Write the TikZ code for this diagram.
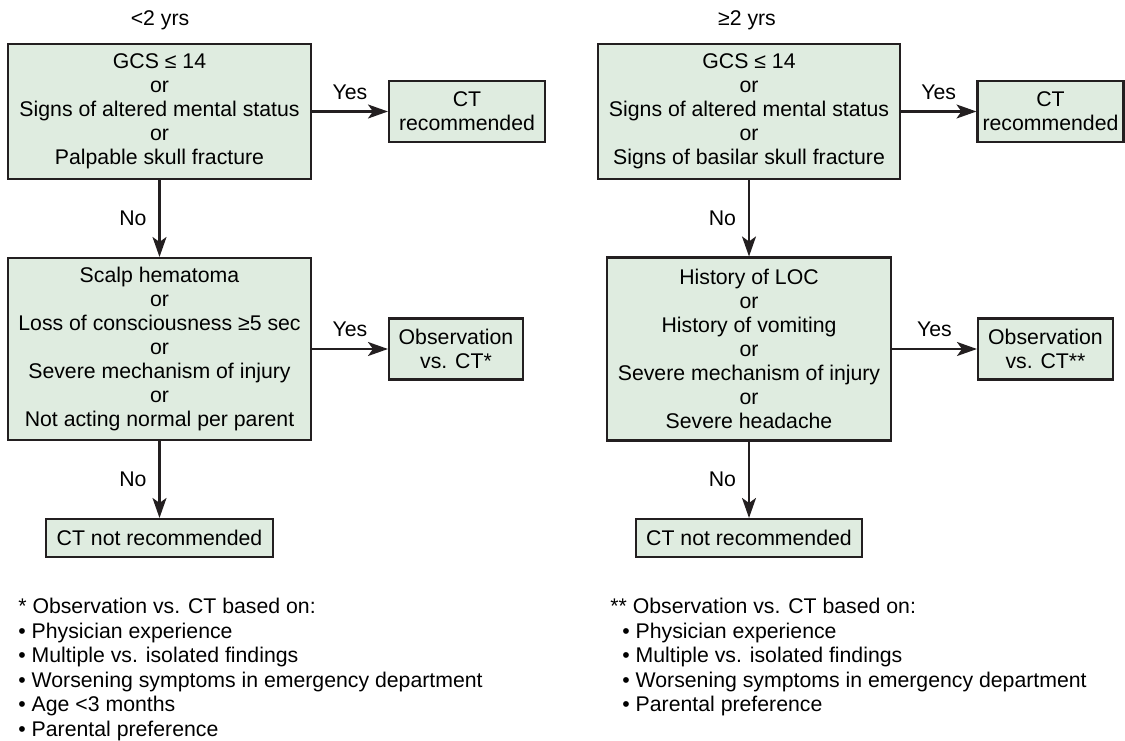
\documentclass[tikz,border=0pt]{standalone}
\usepackage{fontspec}
\setmainfont{Liberation Sans}
\usepackage{tikz}
\usetikzlibrary{arrows.meta}

\definecolor{boxgreen}{RGB}{223,236,224}
\definecolor{edgegray}{RGB}{35,31,32}
\tikzset{
  qbox/.style={draw=edgegray, fill=boxgreen, line width=1.2pt, align=center, inner sep=0pt},
  flow/.style={draw=edgegray, line width=1.2pt, -{Stealth[length=0.4cm,width=0.28cm,inset=0.1cm]}},
  note/.style={anchor=north west, align=left, inner sep=0pt, font=\fontsize{12.1}{13.95}\selectfont}
}

\begin{document}
\begin{tikzpicture}[x=0.02cm, y=-0.02cm, font=\fontsize{12.1}{13.7}\selectfont]
\useasboundingbox (0,0) rectangle (1125,740);
% 2歳未満
\node (agel) at (160,20) {<2 yrs};
\node[qbox, minimum width=6.06cm, minimum height=2.7cm] (q1l) at (159.5,111.5)
  {GCS ≤ 14\\or\\Signs of altered mental status\\or\\Palpable skull fracture};
\node[qbox, minimum width=3.12cm, minimum height=1.22cm] (ctl) at (467,111.5) {CT\\recommended};
\node[qbox, minimum width=6.06cm, minimum height=3.64cm] (q2l) at (159.5,349)
  {Scalp hematoma\\or\\Loss of consciousness ≥5 sec\\or\\Severe mechanism of injury\\or\\Not acting normal per parent};
\node[qbox, minimum width=2.68cm, minimum height=1.22cm] (obsl) at (456,349) {Observation\\vs. CT*};
\node[qbox, minimum width=4.54cm, minimum height=0.76cm] (notl) at (159.5,538) {CT not recommended};

\draw[flow] (q1l) -- node[midway, above=3pt] {Yes} (ctl);
\draw[flow] (q1l) -- node[midway, left=3.5pt] {No} (q2l);
\draw[flow] (q2l) -- node[midway, above=3pt] {Yes} (obsl);
\draw[flow] (q2l) -- node[midway, left=3.5pt] {No} (notl);

% 2歳以上
\node (ager) at (747,20) {≥2 yrs};
\node[qbox, minimum width=6.04cm, minimum height=2.7cm] (q1r) at (749,111.5)
  {GCS ≤ 14\\or\\Signs of altered mental status\\or\\Signs of basilar skull fracture};
\node[qbox, minimum width=2.92cm, minimum height=1.22cm] (ctr) at (1050.5,111.5) {CT\\recommended};
\node[qbox, minimum width=5.68cm, minimum height=3.66cm] (q2r) at (749,349)
  {History of LOC\\or\\History of vomiting\\or\\Severe mechanism of injury\\or\\Severe headache};
\node[qbox, minimum width=2.7cm, minimum height=1.22cm] (obsr) at (1045.5,349) {Observation\\vs. CT**};
\node[qbox, minimum width=4.52cm, minimum height=0.76cm] (notr) at (749,538) {CT not recommended};

\draw[flow] (q1r) -- node[midway, above=3pt] {Yes} (ctr);
\draw[flow] (q1r) -- node[midway, left=3.5pt] {No} (q2r);
\draw[flow] (q2r) -- node[midway, above=3pt] {Yes} (obsr);
\draw[flow] (q2r) -- node[midway, left=3.5pt] {No} (notr);

% 注
\node[note] (notel) at (18,598) {* Observation vs. CT based on:\\• Physician experience\\• Multiple vs. isolated findings\\• Worsening symptoms in emergency department\\• Age <3 months\\• Parental preference};
\node[note] (noter) at (610,598) {** Observation vs. CT based on:\\\hspace*{0.24cm}• Physician experience\\\hspace*{0.24cm}• Multiple vs. isolated findings\\\hspace*{0.24cm}• Worsening symptoms in emergency department\\\hspace*{0.24cm}• Parental preference};
\end{tikzpicture}
\end{document}
